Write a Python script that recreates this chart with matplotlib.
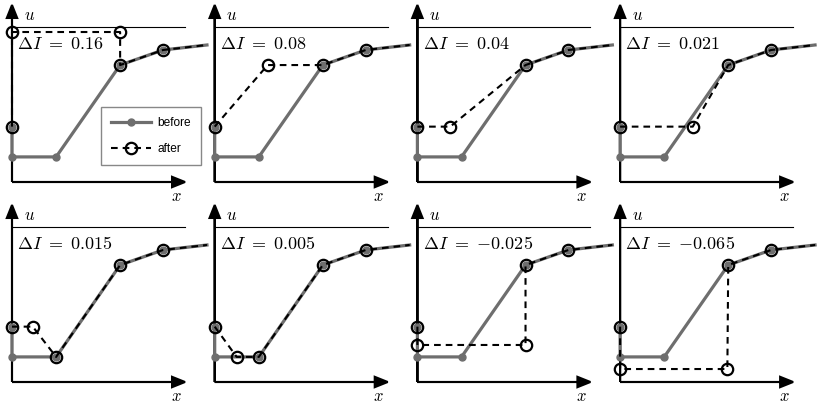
import matplotlib.pyplot as plt

plt.rcParams['mathtext.fontset'] = 'cm'

# profile before the update (shared by all panels)
x_before = [0.0, 0.0, 0.255, 0.625, 0.873, 1.127]
u_before = [0.32, 0.145, 0.145, 0.676, 0.763, 0.792]

# change of the integral, one per panel
delta_I = ['0.16', '0.08', '0.04', '0.021', '0.015', '0.005', '-0.025', '-0.065']

# profiles after the update
x_after = [
    [0.0, 0.0, 0.625, 0.625, 0.873, 1.127],
    [0.0, 0.306, 0.625, 0.873, 1.127],
    [0.0, 0.19, 0.625, 0.873, 1.127],
    [0.0, 0.42, 0.625, 0.873, 1.127],
    [0.0, 0.12, 0.255, 0.625, 0.873, 1.127],
    [0.0, 0.127, 0.255, 0.625, 0.873, 1.127],
    [0.0, 0.0, 0.625, 0.625, 0.873, 1.127],
    [0.0, 0.0, 0.62, 0.625, 0.873, 1.127],
]
u_after = [
    [0.32, 0.867, 0.867, 0.676, 0.763, 0.792],
    [0.32, 0.676, 0.676, 0.763, 0.792],
    [0.32, 0.32, 0.676, 0.763, 0.792],
    [0.32, 0.32, 0.676, 0.763, 0.792],
    [0.32, 0.32, 0.145, 0.676, 0.763, 0.792],
    [0.32, 0.145, 0.145, 0.676, 0.763, 0.792],
    [0.32, 0.214, 0.214, 0.676, 0.763, 0.792],
    [0.32, 0.075, 0.075, 0.676, 0.763, 0.792],
]
u_top = 0.896

W, H = 830, 407
S = 173.0  # pixels per data unit
x0, x1 = -0.07, 1.16
y0, y1 = -0.12, 1.05

fig = plt.figure(figsize=(W / 100, H / 100), dpi=100)
grey = '#6e6e6e'

for k in range(8):
    i, j = k % 4, k // 4
    ox = 12 + 202.7 * i
    oy = 182 + 200 * j
    left = (ox + x0 * S) / W
    bottom = 1 - (oy - y0 * S) / H
    ax = fig.add_axes([left, bottom, (x1 - x0) * S / W, (y1 - y0) * S / H])
    ax.set_xlim(x0, x1)
    ax.set_ylim(y0, y1)
    ax.axis('off')
    ax.patch.set_alpha(0)

    # axes with arrow heads
    ax.arrow(0, 0, 1.0, 0, width=0, head_width=0.06, head_length=0.075,
             length_includes_head=True, fc='k', ec='k', lw=1.5, zorder=1)
    ax.arrow(0, 0, 0, 1.023, width=0, head_width=0.06, head_length=0.075,
             length_includes_head=True, fc='k', ec='k', lw=1.5, zorder=1)
    ax.plot([0, 1.0], [u_top, u_top], color='k', lw=0.8, zorder=1)
    ax.text(0.1, 0.965, '$u$', fontsize=12, ha='center', va='center')
    ax.text(0.948, -0.08, '$x$', fontsize=12, ha='center', va='center')

    lb, = ax.plot(x_before, u_before, color=grey, lw=2.3, marker='o', ms=5,
                  markevery=list(range(len(x_before) - 1)), clip_on=False,
                  zorder=2, label='before')
    la, = ax.plot(x_after[k], u_after[k], color='k', lw=1.5,
                  linestyle=(0, (3.2, 2.4)), marker='o', ms=8.2, mew=1.6,
                  mfc='none', mec='k',
                  markevery=list(range(len(x_after[k]) - 1)), clip_on=False,
                  zorder=3, label='after')
    val = delta_I[k].replace('-', '{-}')
    ax.text(0.03, 0.80, r'$\Delta I\ =\ %s$' % val,
            fontsize=13, ha='left', va='center', zorder=4)

    if k == 0:
        leg = ax.legend(handles=[lb, la], loc='upper left',
                        bbox_to_anchor=(101 / W, 1 - 107 / H),
                        bbox_transform=fig.transFigure, borderaxespad=0,
                        prop={'family': 'Liberation Sans', 'size': 8.6},
                        fancybox=False, edgecolor='#888888', framealpha=1,
                        handlelength=3.3, labelspacing=1.15, borderpad=0.85,
                        handletextpad=0.55, numpoints=1)
        leg.get_frame().set_linewidth(1.0)
        leg.set_zorder(10)

fig.savefig('out.png', dpi=100)
